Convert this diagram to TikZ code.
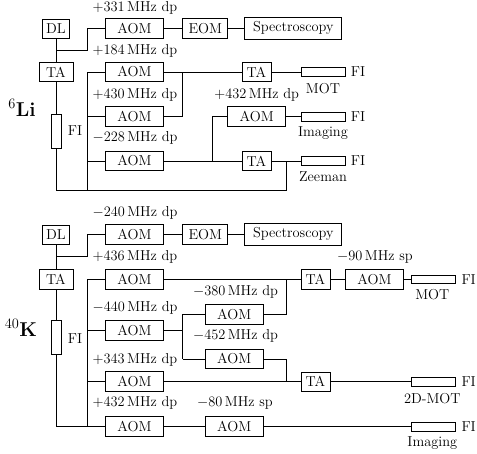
\documentclass[tikz,border=0pt]{standalone}
\usepackage{amsmath}
\usetikzlibrary{positioning}
\tikzset{>=stealth}
\tikzset{box/.style={draw, inner xsep=4pt, inner ysep=4.6pt, minimum height=19pt},
  aom/.style={box, minimum width=58pt},
  ta/.style={box, minimum width=29pt},
  fih/.style={draw, minimum width=44pt, minimum height=8.5pt, inner sep=0pt},
  fiv/.style={draw, minimum width=10pt, minimum height=34pt, inner sep=0pt},
  lbl/.style={inner sep=1pt}}
\begin{document}
\begin{tikzpicture}[x=1pt, y=-1pt, line width=0.8pt, font=\fontsize{14.4}{17}\selectfont]
\useasboundingbox (0,0) rectangle (477,454);
% 6Li
\node at (22,108) {\fontsize{20}{24}\selectfont$^{6}$\textbf{Li}};
\node[box] (dlLi) at (56,28.5) {DL};
\node[aom] (aomLiS) at (134.5,28.3) {AOM};
\node[box, minimum width=45pt] (eomLi) at (205.3,28.3) {EOM};
\node[box, minimum width=97pt] (specLi) at (293.3,28.3) {Spectroscopy};
\node[box, minimum width=34pt] (taLi) at (56,72) {TA};
\node[fiv] (fiLi) at (56,131) {};
\node at (75,131) {FI};
\node[aom] (aomLiA) at (134.5,72) {AOM};
\node[aom] (aomLiB) at (134.5,116.7) {AOM};
\node[aom] (aomLiC) at (134.5,161) {AOM};
\node[ta] (taLiM) at (256.5,72) {TA};
\node[aom] (aomLiI) at (256.7,116.7) {AOM};
\node[ta] (taLiZ) at (256.5,161) {TA};
\node[fih] (fiLiM) at (323,72) {};
\node[fih] (fiLiI) at (323,116.7) {};
\node[fih] (fiLiZ) at (323,161) {};
\node[lbl, right=4pt of fiLiM] {FI};
\node[lbl, right=4pt of fiLiI] {FI};
\node[lbl, right=4pt of fiLiZ] {FI};
\node at (323,88.3) {MOT};
\node at (323,132.7) {Imaging};
\node at (323,177) {Zeeman};
\node at (135,7.5) {$+331\,\mathrm{MHz}$ dp};
\node at (135,50.7) {$+184\,\mathrm{MHz}$ dp};
\node at (135,95) {$+430\,\mathrm{MHz}$ dp};
\node at (135,138.3) {$-228\,\mathrm{MHz}$ dp};
\node at (256.7,95) {$+432\,\mathrm{MHz}$ dp};
\coordinate (brLi) at (56,50);
\coordinate (busLi) at (87.3,72);
\coordinate (botLi) at (0,190.7);
\coordinate (jLiA) at (182.7,72);
\coordinate (jLiB) at (212.3,161);
\coordinate (jLiC) at (286.7,161);
\draw (dlLi) -- (taLi);
\draw (brLi) -| (busLi |- aomLiS) -- (aomLiS);
\draw (aomLiS) -- (eomLi);
\draw (eomLi) -- (specLi);
\draw (taLi) -- (fiLi);
\draw (fiLi.south) -- (fiLi.south |- botLi) -| (jLiC);
\draw (aomLiA.west) -- (busLi) -- (busLi |- botLi);
\draw (aomLiB.west) -- (aomLiB.west -| busLi);
\draw (aomLiC.west) -- (aomLiC.west -| busLi);
\draw (aomLiA) -- (taLiM);
\draw (aomLiB.east) -| (jLiA);
\draw (aomLiC) -- (taLiZ);
\draw (jLiB) |- (aomLiI.west);
\draw (taLiM) -- (fiLiM);
\draw (aomLiI) -- (fiLiI);
\draw (taLiZ) -- (fiLiZ);
% 40K
\node at (21,328) {\fontsize{20}{24}\selectfont$^{40}$\textbf{K}};
\node[box] (dlK) at (56,234.5) {DL};
\node[aom] (aomKS) at (134.5,234.3) {AOM};
\node[box, minimum width=45pt] (eomK) at (205.3,234.3) {EOM};
\node[box, minimum width=97pt] (specK) at (293.3,234.3) {Spectroscopy};
\node[box, minimum width=34pt] (taK) at (56,279.5) {TA};
\node[fiv] (fiK) at (56,337.8) {};
\node at (75,338.3) {FI};
\node[aom] (aomKA) at (134.5,279.3) {AOM};
\node[aom] (aomKB) at (134.5,330.7) {AOM};
\node[aom] (aomKC) at (134.5,381.7) {AOM};
\node[aom] (aomKD) at (134.5,426.7) {AOM};
\node[aom] (aomKE) at (234.2,314.3) {AOM};
\node[aom] (aomKF) at (234.2,359) {AOM};
\node[aom] (aomKG) at (234.2,426.7) {AOM};
\node[ta] (taKM) at (315.5,279.3) {TA};
\node[aom] (aomKM) at (374.5,279.3) {AOM};
\node[ta] (taKT) at (315.5,381.7) {TA};
\node[fih] (fiKM) at (433.7,279.3) {};
\node[fih] (fiKT) at (433.7,381.7) {};
\node[fih] (fiKI) at (433.7,426.7) {};
\node[lbl, right=4pt of fiKM] {FI};
\node[lbl, right=4pt of fiKT] {FI};
\node[lbl, right=4pt of fiKI] {FI};
\node at (432.3,295) {MOT};
\node at (432.3,398.3) {2D-MOT};
\node at (432.3,442.7) {Imaging};
\node at (135,213.3) {$-240\,\mathrm{MHz}$ dp};
\node at (135,256.7) {$+436\,\mathrm{MHz}$ dp};
\node at (235.5,291.7) {$-380\,\mathrm{MHz}$ dp};
\node at (135,307.7) {$-440\,\mathrm{MHz}$ dp};
\node at (235.5,336) {$-452\,\mathrm{MHz}$ dp};
\node at (135,360) {$+343\,\mathrm{MHz}$ dp};
\node at (135,403.3) {$+432\,\mathrm{MHz}$ dp};
\node at (235,403.3) {$-80\,\mathrm{MHz}$ sp};
\node at (375,257.3) {$-90\,\mathrm{MHz}$ sp};
\coordinate (brK) at (56,256.7);
\coordinate (busK) at (87.3,279.3);
\coordinate (jKA) at (182.7,330.7);
\coordinate (jKB) at (286.7,279.3);
\coordinate (jKC) at (286.7,381.7);
\draw (dlK) -- (taK);
\draw (brK) -| (busK |- aomKS) -- (aomKS);
\draw (aomKS) -- (eomK);
\draw (eomK) -- (specK);
\draw (taK) -- (fiK);
\draw (fiK.south) |- (aomKD.west);
\draw (aomKA.west) -- (busK) -- (busK |- aomKD);
\draw (aomKB.west) -- (aomKB.west -| busK);
\draw (aomKC.west) -- (aomKC.west -| busK);
\draw (aomKA) -- (taKM);
\draw (aomKB) -- (jKA);
\draw (jKA |- aomKE) -- (jKA |- aomKF);
\draw (jKA |- aomKE) -- (aomKE);
\draw (jKA |- aomKF) -- (aomKF);
\draw (aomKE.east) -| (jKB);
\draw (aomKF.east) -| (jKC);
\draw (aomKC) -- (taKT);
\draw (aomKD) -- (aomKG);
\draw (aomKG) -- (fiKI);
\draw (taKM) -- (aomKM);
\draw (aomKM) -- (fiKM);
\draw (taKT) -- (fiKT);
\end{tikzpicture}
\end{document}
